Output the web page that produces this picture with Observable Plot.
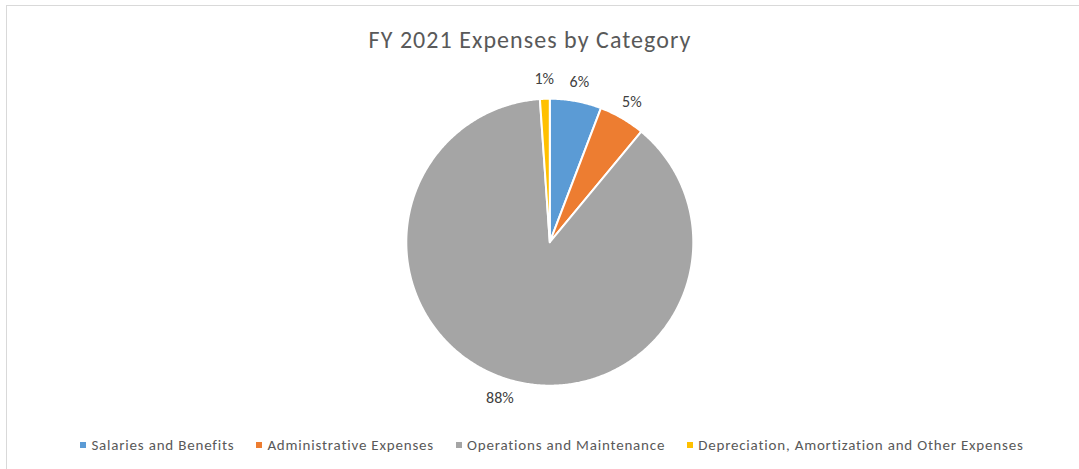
<!DOCTYPE html>
<html><head><meta charset="utf-8">
<script src="https://cdn.jsdelivr.net/npm/d3@7"></script>
<script src="https://cdn.jsdelivr.net/npm/@observablehq/plot@0.6"></script>
<style>
html,body{margin:0;padding:0;background:#fff;overflow:hidden;width:1079px;height:469px;}
body{position:relative;font-family:Carlito,Calibri,Lato,"Open Sans",sans-serif;}
#frame{position:absolute;left:6px;top:5px;width:1100px;height:520px;border:1.5px solid #d9d9d9;box-sizing:border-box;pointer-events:none;}
#title{position:relative;height:64px;box-sizing:border-box;padding-top:26px;width:1060px;text-align:center;font-size:24px;letter-spacing:1.05px;line-height:28px;color:#595959;}
#chart{position:relative;height:350px;}
#chart svg{display:block;}
#legend{position:relative;width:1104px;display:flex;justify-content:center;gap:22px;padding-top:22px;font-size:15px;letter-spacing:0.8px;line-height:18px;color:#595959;white-space:nowrap;}
.item{display:flex;align-items:center;}
.sw{width:6px;height:6px;margin-right:5px;display:inline-block;}
</style></head>
<body>
<div id="frame"></div>
<div id="title"></div>
<div id="chart"></div>
<div id="legend"></div>
<script>
const title = "FY 2021 Expenses by Category";
const categories = ["Salaries and Benefits","Administrative Expenses","Operations and Maintenance","Depreciation, Amortization and Other Expenses"];
const shares = [5.8, 5.2, 87.9, 1.1];
const colors = ["#5B9BD5","#ED7D31","#A5A5A5","#FFC000"];

const W = 1079, H = 350;
const cx = 549.3, cy = 177.7, R = 143.5, labelR = 163;

document.getElementById("title").textContent = title;

const data = categories.map((c,i)=>({category:c, value:shares[i]}));
const total = d3.sum(data, d=>d.value);
const arcs = d3.pie().sort(null).value(d=>d.value).startAngle(0).endAngle(2*Math.PI)(data);

const pts = [];
for (const a of arcs) {
  const cat = a.data.category;
  pts.push({category:cat, x:cx, y:cy});
  const n = Math.max(2, Math.ceil((a.endAngle-a.startAngle)/(Math.PI/360)));
  for (let k=0;k<=n;k++){
    const t = a.startAngle + (a.endAngle-a.startAngle)*k/n;
    pts.push({category:cat, x:cx+R*Math.sin(t), y:cy-R*Math.cos(t)});
  }
  pts.push({category:cat, x:cx, y:cy});
}
const labels = arcs.map(a=>{
  const m=(a.startAngle+a.endAngle)/2;
  return {x:cx+labelR*Math.sin(m), y:cy-labelR*Math.cos(m), text:Math.round(a.data.value/total*100)+"%"};
});

const plot = Plot.plot({
  width: W, height: H, margin: 0,
  x: {domain:[0,W], range:[0,W], axis:null},
  y: {domain:[0,H], range:[0,H], axis:null},
  color: {domain: categories, range: colors},
  style: {background:"transparent", fontFamily:"Carlito,Calibri,Lato,'Open Sans',sans-serif"},
  marks: [
    Plot.line(pts, {x:"x", y:"y", z:"category", fill:"category", stroke:"white", strokeWidth:2, strokeLinejoin:"round"}),
    Plot.text(labels, {x:"x", y:"y", text:"text", fill:"#404040", fontSize:16})
  ]
});
document.getElementById("chart").appendChild(plot);

const leg = document.getElementById("legend");
categories.forEach((c,i)=>{
  const it=document.createElement("div"); it.className="item";
  const s=document.createElement("span"); s.className="sw"; s.style.background=colors[i];
  const t=document.createElement("span"); t.textContent=c;
  it.appendChild(s); it.appendChild(t); leg.appendChild(it);
});
</script>
</body></html>
